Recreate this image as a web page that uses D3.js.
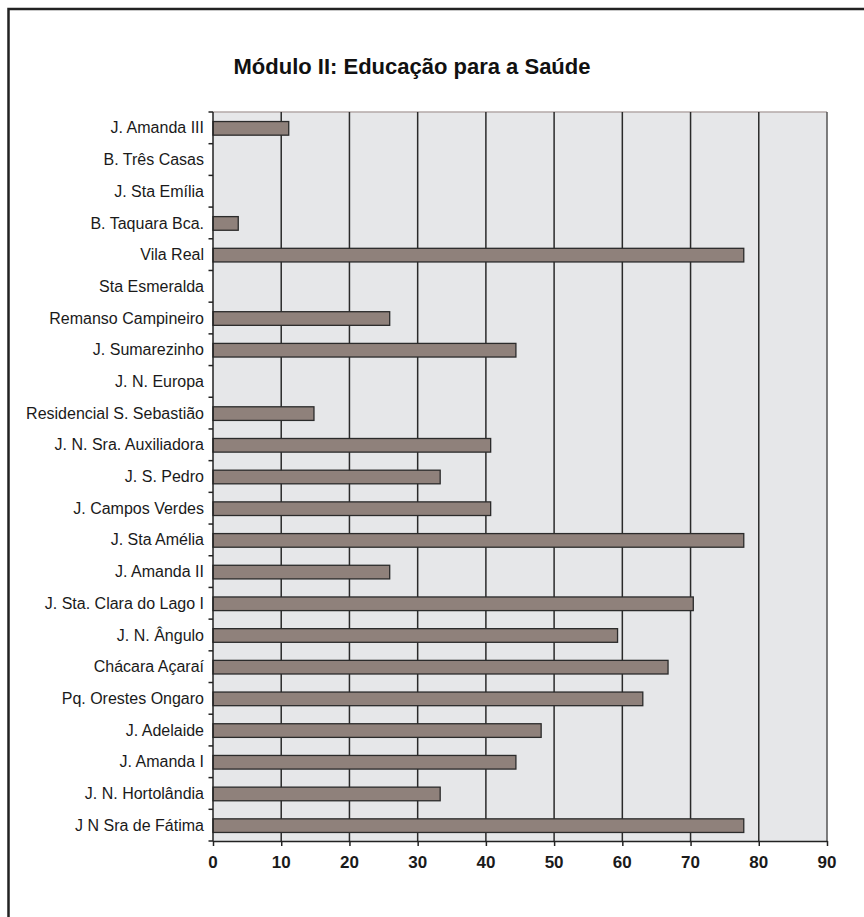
<!DOCTYPE html>
<html>
<head>
<meta charset="utf-8">
<script src="https://cdn.jsdelivr.net/npm/d3@7"></script>
<style>
  body { margin: 0; background: #fff; }
  svg { display: block; font-family: "Liberation Sans", Arial, sans-serif; }
</style>
</head>
<body>
<svg id="chart"></svg>
<script>
// neighbourhoods, top to bottom
const bairros = [
  "J. Amanda III", "B. Três Casas", "J. Sta Emília", "B. Taquara Bca.",
  "Vila Real", "Sta Esmeralda", "Remanso Campineiro", "J. Sumarezinho",
  "J. N. Europa", "Residencial S. Sebastião", "J. N. Sra. Auxiliadora",
  "J. S. Pedro", "J. Campos Verdes", "J. Sta Amélia", "J. Amanda II",
  "J. Sta. Clara do Lago I", "J. N. Ângulo", "Chácara Açaraí",
  "Pq. Orestes Ongaro", "J. Adelaide", "J. Amanda I", "J. N. Hortolândia",
  "J N Sra de Fátima"
];
// percentages
const valores = [
  11.1, 0, 0, 3.7,
  77.8, 0, 25.9, 44.4,
  0, 14.8, 40.7,
  33.3, 40.7, 77.8, 25.9,
  70.4, 59.3, 66.7,
  63.0, 48.1, 44.4, 33.3,
  77.8
];
const xTicks = [0, 10, 20, 30, 40, 50, 60, 70, 80, 90];

const W = 864, H = 917;
const margin = {top: 112, right: 37, bottom: 76, left: 213};

const svg = d3.select("#chart").attr("width", W).attr("height", H);

// outer frame (cut off at right and bottom like the scan)
svg.append("rect")
  .attr("x", 8.5).attr("y", 9)
  .attr("width", W + 10).attr("height", H + 10)
  .attr("fill", "none").attr("stroke", "#222").attr("stroke-width", 2.5);

svg.append("text")
  .attr("x", 412).attr("y", 74)
  .attr("text-anchor", "middle")
  .attr("font-size", 22).attr("font-weight", "bold")
  .attr("fill", "#111")
  .text("Módulo II: Educação para a Saúde");

const x = d3.scaleLinear().domain([0, 90]).range([margin.left, W - margin.right]);
const y = d3.scaleBand().domain(bairros).range([margin.top, H - margin.bottom]).paddingInner(0).paddingOuter(0);

const data = bairros.map((b, i) => ({nome: b, valor: valores[i]}));

// plot background
svg.append("rect")
  .attr("x", x(0)).attr("y", y.range()[0])
  .attr("width", x(90) - x(0)).attr("height", y.range()[1] - y.range()[0])
  .attr("fill", "#e6e7e9");

// top edge (light) and right edge
svg.append("line")
  .attr("x1", x(0)).attr("x2", x(90))
  .attr("y1", y.range()[0]).attr("y2", y.range()[0])
  .attr("stroke", "#b3a9a7").attr("stroke-width", 1.5);
svg.append("line")
  .attr("x1", x(90)).attr("x2", x(90))
  .attr("y1", y.range()[0]).attr("y2", y.range()[1])
  .attr("stroke", "#555").attr("stroke-width", 1.5);

// gridlines
svg.append("g")
  .selectAll("line")
  .data(xTicks.filter(d => d > 0 && d < 90))
  .join("line")
  .attr("x1", d => x(d)).attr("x2", d => x(d))
  .attr("y1", y.range()[0]).attr("y2", y.range()[1])
  .attr("stroke", "#2a2a2a").attr("stroke-width", 1.5);

// bars
const barH = y.bandwidth() * 0.43;
svg.append("g")
  .selectAll("rect")
  .data(data.filter(d => d.valor > 0))
  .join("rect")
  .attr("x", x(0))
  .attr("y", d => y(d.nome) + (y.bandwidth() - barH) / 2 + 0.5)
  .attr("width", d => x(d.valor) - x(0))
  .attr("height", barH)
  .attr("fill", "#8f817b")
  .attr("stroke", "#2b2b2b").attr("stroke-width", 1.3);

// y axis: ticks at band boundaries
const yAxis = svg.append("g");
yAxis.append("line")
  .attr("x1", x(0)).attr("x2", x(0))
  .attr("y1", y.range()[0]).attr("y2", y.range()[1])
  .attr("stroke", "#222").attr("stroke-width", 1.5);
yAxis.selectAll("line.tk")
  .data(d3.range(bairros.length + 1))
  .join("line")
  .attr("class", "tk")
  .attr("x1", x(0) - 4.5).attr("x2", x(0))
  .attr("y1", i => y.range()[0] + i * y.step())
  .attr("y2", i => y.range()[0] + i * y.step())
  .attr("stroke", "#222").attr("stroke-width", 1.5);
yAxis.selectAll("text")
  .data(bairros)
  .join("text")
  .attr("x", x(0) - 9)
  .attr("y", d => y(d) + y.bandwidth() / 2)
  .attr("dy", "0.35em")
  .attr("text-anchor", "end")
  .attr("font-size", 16)
  .attr("fill", "#1a1a1a")
  .text(d => d);

// x axis (line + ticks from d3, labels drawn by hand for size control)
const yBase = y.range()[1];
const xAxis = svg.append("g")
  .attr("transform", `translate(0,${yBase})`)
  .call(d3.axisBottom(x).tickValues(xTicks).tickSize(5).tickSizeOuter(0).tickFormat(""));
xAxis.select(".domain").attr("stroke", "#222").attr("stroke-width", 1.5);
xAxis.selectAll(".tick line").attr("stroke", "#222").attr("stroke-width", 1.5);

svg.append("g")
  .selectAll("text")
  .data(xTicks)
  .join("text")
  .attr("x", d => x(d))
  .attr("y", yBase + 27)
  .attr("text-anchor", "middle")
  .attr("font-size", 17)
  .attr("font-weight", "bold")
  .attr("fill", "#1a1a1a")
  .text(d => d);
</script>
</body>
</html>
